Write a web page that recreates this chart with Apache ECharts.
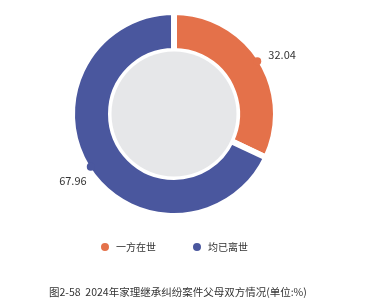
<!DOCTYPE html>
<html>
<head>
<meta charset="utf-8">
<script src="https://cdn.jsdelivr.net/npm/echarts@6/dist/echarts.min.js"></script>
<style>
html,body{margin:0;padding:0;background:#fff;}
#chart{width:368px;height:308px;}
</style>
</head>
<body>
<div id="chart"></div>
<script>
var categories = ['一方在世', '均已离世'];
var values = [32.04, 67.96];
var colors = ['#E4714A', '#4A579E'];
var titleText = '图2-58  2024年家理继承纠纷案件父母双方情况(单位:%)';

var labelOffsets = [[0, 0], [7, 8]];

var total = values.reduce(function (a, b) { return a + b; }, 0);
var cum = 0;
var dotData = values.map(function (v, i) {
  var mid = cum + v / 2;
  cum += v;
  return {value: [1, mid / total * 100], itemStyle: {color: colors[i]}};
});

var chart = echarts.init(document.getElementById('chart'), null, {renderer: 'canvas'});
var ringData = categories.map(function (c, i) {
  return {
    name: c,
    value: values[i],
    itemStyle: {color: colors[i]},
    label: {offset: labelOffsets[i]}
  };
});
var font = '"Noto Sans CJK SC", "Noto Sans", sans-serif';
chart.setOption({
  animation: false,
  backgroundColor: '#fff',
  title: {
    text: titleText,
    left: 44,
    top: 282,
    textStyle: {fontSize: 10.5, fontWeight: 'normal', color: '#333', fontFamily: font}
  },
  legend: {
    data: categories,
    left: 94,
    top: 236,
    icon: 'circle',
    itemWidth: 12,
    itemHeight: 10,
    itemGap: 35,
    textStyle: {fontSize: 10, color: '#333', fontFamily: font}
  },
  polar: {center: [174, 114], radius: [0, 98.5]},
  angleAxis: {type: 'value', min: 0, max: 100, startAngle: 90, clockwise: true, show: false},
  radiusAxis: {type: 'value', min: 0, max: 1, show: false},
  series: [
    {
      type: 'pie',
      center: [174, 114],
      radius: [63, 102],
      startAngle: 90,
      clockwise: true,
      avoidLabelOverlap: false,
      silent: true,
      z: 2,
      itemStyle: {borderColor: '#fff', borderWidth: 6},
      label: {
        show: true,
        position: 'outside',
        formatter: function (p) { return p.value.toFixed(2); },
        fontSize: 11,
        color: '#333',
        fontFamily: font,
        distanceToLabelLine: 1
      },
      labelLine: {
        show: false,
        length: 8.5,
        length2: 0
      },
      data: ringData
    },
    {
      type: 'pie',
      center: [174, 114],
      radius: [0, 62.5],
      silent: true,
      z: 2,
      label: {show: false},
      labelLine: {show: false},
      itemStyle: {color: '#E6E7E9'},
      data: [{name: 'bg', value: 1}]
    },
    {
      type: 'scatter',
      coordinateSystem: 'polar',
      symbol: 'circle',
      symbolSize: 8,
      silent: true,
      z: 5,
      itemStyle: {opacity: 1},
      data: dotData
    }
  ]
});
</script>
</body>
</html>
